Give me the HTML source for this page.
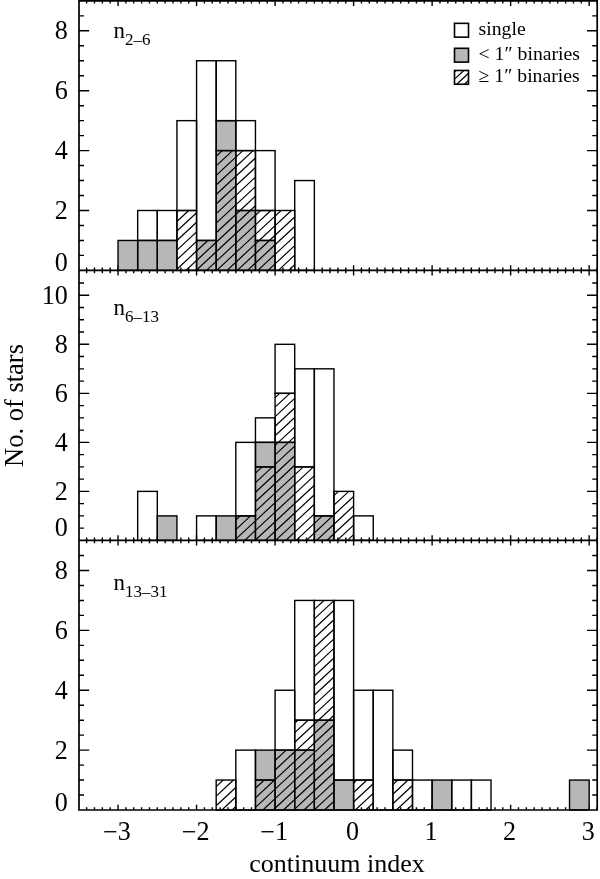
<!DOCTYPE html>
<html><head><meta charset="utf-8"><title>continuum index histograms</title>
<style>html,body{margin:0;padding:0;background:#fff}svg{display:block}text{font-family:"Liberation Serif","Times New Roman",Times,serif;fill:#000}</style></head><body>
<svg width="600" height="879" viewBox="0 0 600 879">
<rect width="600" height="879" fill="#fff"/>
<path d="M86.63 0.80V3.60M94.48 0.80V3.60M102.34 0.80V3.60M110.19 0.80V3.60M118.04 0.80V6.00M125.89 0.80V3.60M133.74 0.80V3.60M141.60 0.80V3.60M149.45 0.80V3.60M157.30 0.80V3.60M165.15 0.80V3.60M173.00 0.80V3.60M180.86 0.80V3.60M188.71 0.80V3.60M196.56 0.80V6.00M204.41 0.80V3.60M212.26 0.80V3.60M220.12 0.80V3.60M227.97 0.80V3.60M235.82 0.80V3.60M243.67 0.80V3.60M251.52 0.80V3.60M259.38 0.80V3.60M267.23 0.80V3.60M275.08 0.80V6.00M282.93 0.80V3.60M290.78 0.80V3.60M298.64 0.80V3.60M306.49 0.80V3.60M314.34 0.80V3.60M322.19 0.80V3.60M330.04 0.80V3.60M337.90 0.80V3.60M345.75 0.80V3.60M353.60 0.80V6.00M361.45 0.80V3.60M369.30 0.80V3.60M377.16 0.80V3.60M385.01 0.80V3.60M392.86 0.80V3.60M400.71 0.80V3.60M408.56 0.80V3.60M416.42 0.80V3.60M424.27 0.80V3.60M432.12 0.80V6.00M439.97 0.80V3.60M447.82 0.80V3.60M455.68 0.80V3.60M463.53 0.80V3.60M471.38 0.80V3.60M479.23 0.80V3.60M487.08 0.80V3.60M494.94 0.80V3.60M502.79 0.80V3.60M510.64 0.80V6.00M518.49 0.80V3.60M526.34 0.80V3.60M534.20 0.80V3.60M542.05 0.80V3.60M549.90 0.80V3.60M557.75 0.80V3.60M565.60 0.80V3.60M573.46 0.80V3.60M581.31 0.80V3.60M589.16 0.80V6.00M597.01 0.80V3.60M86.63 267.60V273.20M94.48 267.60V273.20M102.34 267.60V273.20M110.19 267.60V273.20M118.04 265.20V275.60M125.89 267.60V273.20M133.74 267.60V273.20M141.60 267.60V273.20M149.45 267.60V273.20M157.30 267.60V273.20M165.15 267.60V273.20M173.00 267.60V273.20M180.86 267.60V273.20M188.71 267.60V273.20M196.56 265.20V275.60M204.41 267.60V273.20M212.26 267.60V273.20M220.12 267.60V273.20M227.97 267.60V273.20M235.82 267.60V273.20M243.67 267.60V273.20M251.52 267.60V273.20M259.38 267.60V273.20M267.23 267.60V273.20M275.08 265.20V275.60M282.93 267.60V273.20M290.78 267.60V273.20M298.64 267.60V273.20M306.49 267.60V273.20M314.34 267.60V273.20M322.19 267.60V273.20M330.04 267.60V273.20M337.90 267.60V273.20M345.75 267.60V273.20M353.60 265.20V275.60M361.45 267.60V273.20M369.30 267.60V273.20M377.16 267.60V273.20M385.01 267.60V273.20M392.86 267.60V273.20M400.71 267.60V273.20M408.56 267.60V273.20M416.42 267.60V273.20M424.27 267.60V273.20M432.12 265.20V275.60M439.97 267.60V273.20M447.82 267.60V273.20M455.68 267.60V273.20M463.53 267.60V273.20M471.38 267.60V273.20M479.23 267.60V273.20M487.08 267.60V273.20M494.94 267.60V273.20M502.79 267.60V273.20M510.64 265.20V275.60M518.49 267.60V273.20M526.34 267.60V273.20M534.20 267.60V273.20M542.05 267.60V273.20M549.90 267.60V273.20M557.75 267.60V273.20M565.60 267.60V273.20M573.46 267.60V273.20M581.31 267.60V273.20M589.16 265.20V275.60M597.01 267.60V273.20M86.63 537.60V543.20M94.48 537.60V543.20M102.34 537.60V543.20M110.19 537.60V543.20M118.04 535.20V545.60M125.89 537.60V543.20M133.74 537.60V543.20M141.60 537.60V543.20M149.45 537.60V543.20M157.30 537.60V543.20M165.15 537.60V543.20M173.00 537.60V543.20M180.86 537.60V543.20M188.71 537.60V543.20M196.56 535.20V545.60M204.41 537.60V543.20M212.26 537.60V543.20M220.12 537.60V543.20M227.97 537.60V543.20M235.82 537.60V543.20M243.67 537.60V543.20M251.52 537.60V543.20M259.38 537.60V543.20M267.23 537.60V543.20M275.08 535.20V545.60M282.93 537.60V543.20M290.78 537.60V543.20M298.64 537.60V543.20M306.49 537.60V543.20M314.34 537.60V543.20M322.19 537.60V543.20M330.04 537.60V543.20M337.90 537.60V543.20M345.75 537.60V543.20M353.60 535.20V545.60M361.45 537.60V543.20M369.30 537.60V543.20M377.16 537.60V543.20M385.01 537.60V543.20M392.86 537.60V543.20M400.71 537.60V543.20M408.56 537.60V543.20M416.42 537.60V543.20M424.27 537.60V543.20M432.12 535.20V545.60M439.97 537.60V543.20M447.82 537.60V543.20M455.68 537.60V543.20M463.53 537.60V543.20M471.38 537.60V543.20M479.23 537.60V543.20M487.08 537.60V543.20M494.94 537.60V543.20M502.79 537.60V543.20M510.64 535.20V545.60M518.49 537.60V543.20M526.34 537.60V543.20M534.20 537.60V543.20M542.05 537.60V543.20M549.90 537.60V543.20M557.75 537.60V543.20M565.60 537.60V543.20M573.46 537.60V543.20M581.31 537.60V543.20M589.16 535.20V545.60M597.01 537.60V543.20M86.63 807.20V810.00M94.48 807.20V810.00M102.34 807.20V810.00M110.19 807.20V810.00M118.04 804.80V810.00M125.89 807.20V810.00M133.74 807.20V810.00M141.60 807.20V810.00M149.45 807.20V810.00M157.30 807.20V810.00M165.15 807.20V810.00M173.00 807.20V810.00M180.86 807.20V810.00M188.71 807.20V810.00M196.56 804.80V810.00M204.41 807.20V810.00M212.26 807.20V810.00M220.12 807.20V810.00M227.97 807.20V810.00M235.82 807.20V810.00M243.67 807.20V810.00M251.52 807.20V810.00M259.38 807.20V810.00M267.23 807.20V810.00M275.08 804.80V810.00M282.93 807.20V810.00M290.78 807.20V810.00M298.64 807.20V810.00M306.49 807.20V810.00M314.34 807.20V810.00M322.19 807.20V810.00M330.04 807.20V810.00M337.90 807.20V810.00M345.75 807.20V810.00M353.60 804.80V810.00M361.45 807.20V810.00M369.30 807.20V810.00M377.16 807.20V810.00M385.01 807.20V810.00M392.86 807.20V810.00M400.71 807.20V810.00M408.56 807.20V810.00M416.42 807.20V810.00M424.27 807.20V810.00M432.12 804.80V810.00M439.97 807.20V810.00M447.82 807.20V810.00M455.68 807.20V810.00M463.53 807.20V810.00M471.38 807.20V810.00M479.23 807.20V810.00M487.08 807.20V810.00M494.94 807.20V810.00M502.79 807.20V810.00M510.64 804.80V810.00M518.49 807.20V810.00M526.34 807.20V810.00M534.20 807.20V810.00M542.05 807.20V810.00M549.90 807.20V810.00M557.75 807.20V810.00M565.60 807.20V810.00M573.46 807.20V810.00M581.31 807.20V810.00M589.16 804.80V810.00M597.01 807.20V810.00M79.00 255.42h5.0M597.20 255.42h-5.0M79.00 240.45h5.0M597.20 240.45h-5.0M79.00 225.47h5.0M597.20 225.47h-5.0M79.00 210.50h10.2M597.20 210.50h-10.2M79.00 195.52h5.0M597.20 195.52h-5.0M79.00 180.55h5.0M597.20 180.55h-5.0M79.00 165.57h5.0M597.20 165.57h-5.0M79.00 150.60h10.2M597.20 150.60h-10.2M79.00 135.62h5.0M597.20 135.62h-5.0M79.00 120.65h5.0M597.20 120.65h-5.0M79.00 105.68h5.0M597.20 105.68h-5.0M79.00 90.70h10.2M597.20 90.70h-10.2M79.00 75.72h5.0M597.20 75.72h-5.0M79.00 60.75h5.0M597.20 60.75h-5.0M79.00 45.78h5.0M597.20 45.78h-5.0M79.00 30.80h10.2M597.20 30.80h-10.2M79.00 15.83h5.0M597.20 15.83h-5.0M79.00 528.14h5.0M597.20 528.14h-5.0M79.00 515.89h5.0M597.20 515.89h-5.0M79.00 503.63h5.0M597.20 503.63h-5.0M79.00 491.38h10.2M597.20 491.38h-10.2M79.00 479.12h5.0M597.20 479.12h-5.0M79.00 466.87h5.0M597.20 466.87h-5.0M79.00 454.62h5.0M597.20 454.62h-5.0M79.00 442.36h10.2M597.20 442.36h-10.2M79.00 430.11h5.0M597.20 430.11h-5.0M79.00 417.85h5.0M597.20 417.85h-5.0M79.00 405.60h5.0M597.20 405.60h-5.0M79.00 393.34h10.2M597.20 393.34h-10.2M79.00 381.08h5.0M597.20 381.08h-5.0M79.00 368.83h5.0M597.20 368.83h-5.0M79.00 356.57h5.0M597.20 356.57h-5.0M79.00 344.32h10.2M597.20 344.32h-10.2M79.00 332.06h5.0M597.20 332.06h-5.0M79.00 319.81h5.0M597.20 319.81h-5.0M79.00 307.56h5.0M597.20 307.56h-5.0M79.00 295.30h10.2M597.20 295.30h-10.2M79.00 283.05h5.0M597.20 283.05h-5.0M79.00 795.03h5.0M597.20 795.03h-5.0M79.00 780.06h5.0M597.20 780.06h-5.0M79.00 765.09h5.0M597.20 765.09h-5.0M79.00 750.12h10.2M597.20 750.12h-10.2M79.00 735.16h5.0M597.20 735.16h-5.0M79.00 720.19h5.0M597.20 720.19h-5.0M79.00 705.22h5.0M597.20 705.22h-5.0M79.00 690.25h10.2M597.20 690.25h-10.2M79.00 675.28h5.0M597.20 675.28h-5.0M79.00 660.31h5.0M597.20 660.31h-5.0M79.00 645.34h5.0M597.20 645.34h-5.0M79.00 630.38h10.2M597.20 630.38h-10.2M79.00 615.41h5.0M597.20 615.41h-5.0M79.00 600.44h5.0M597.20 600.44h-5.0M79.00 585.47h5.0M597.20 585.47h-5.0M79.00 570.50h10.2M597.20 570.50h-10.2M79.00 555.53h5.0M597.20 555.53h-5.0" stroke="#000" stroke-width="1.4" fill="none"/>
<g>
<rect x="118.04" y="240.45" width="19.63" height="29.95" fill="#b7b7b7"/>
<rect x="137.67" y="240.45" width="19.63" height="29.95" fill="#b7b7b7"/>
<rect x="157.30" y="240.45" width="19.63" height="29.95" fill="#b7b7b7"/>
<path d="M176.93 211.91L178.44 210.50M176.93 221.46L188.71 210.50M176.93 231.01L196.56 212.75M176.93 240.56L196.56 222.30M176.93 250.11L196.56 231.85M176.93 259.66L196.56 241.40M176.93 269.21L196.56 250.95M185.91 270.40L196.56 260.50M196.18 270.40L196.56 270.05" stroke="#000" stroke-width="1.2" fill="none"/>
<rect x="196.56" y="240.45" width="19.63" height="29.95" fill="#b7b7b7"/>
<path d="M196.56 241.40L197.58 240.45M196.56 250.95L207.85 240.45M196.56 260.50L216.19 242.24M196.56 270.05L216.19 251.79M206.45 270.40L216.19 261.34" stroke="#000" stroke-width="1.2" fill="none"/>
<rect x="216.19" y="150.60" width="19.63" height="119.80" fill="#b7b7b7"/>
<path d="M216.19 156.29L222.31 150.60M216.19 165.84L232.58 150.60M216.19 175.39L235.82 157.14M216.19 184.94L235.82 166.69M216.19 194.49L235.82 176.24M216.19 204.04L235.82 185.79M216.19 213.59L235.82 195.34M216.19 223.14L235.82 204.89M216.19 232.69L235.82 214.44M216.19 242.24L235.82 223.99M216.19 251.79L235.82 233.54M216.19 261.34L235.82 243.09M216.72 270.40L235.82 252.64M226.99 270.40L235.82 262.19" stroke="#000" stroke-width="1.2" fill="none"/>
<rect x="216.19" y="120.65" width="19.63" height="29.95" fill="#b7b7b7"/>
<rect x="235.82" y="210.50" width="19.63" height="59.90" fill="#b7b7b7"/>
<path d="M235.82 214.44L240.05 210.50M235.82 223.99L250.32 210.50M235.82 233.54L255.45 215.28M235.82 243.09L255.45 224.83M235.82 252.64L255.45 234.38M235.82 262.19L255.45 243.93M237.26 270.40L255.45 253.48M247.53 270.40L255.45 263.03" stroke="#000" stroke-width="1.2" fill="none"/>
<path d="M235.82 157.14L242.85 150.60M235.82 166.69L253.12 150.60M235.82 176.24L255.45 157.98M235.82 185.79L255.45 167.53M235.82 195.34L255.45 177.08M235.82 204.89L255.45 186.63M240.05 210.50L255.45 196.18M250.32 210.50L255.45 205.73" stroke="#000" stroke-width="1.2" fill="none"/>
<rect x="255.45" y="240.45" width="19.63" height="29.95" fill="#b7b7b7"/>
<path d="M255.45 243.93L259.19 240.45M255.45 253.48L269.46 240.45M255.45 263.03L275.08 244.78M257.80 270.40L275.08 254.33M268.06 270.40L275.08 263.88" stroke="#000" stroke-width="1.2" fill="none"/>
<path d="M255.45 215.28L260.59 210.50M255.45 224.83L270.86 210.50M255.45 234.38L275.08 216.13M259.19 240.45L275.08 225.68M269.46 240.45L275.08 235.23" stroke="#000" stroke-width="1.2" fill="none"/>
<path d="M275.08 216.13L281.13 210.50M275.08 225.68L291.40 210.50M275.08 235.23L294.71 216.97M275.08 244.78L294.71 226.52M275.08 254.33L294.71 236.07M275.08 263.88L294.71 245.62M278.33 270.40L294.71 255.17M288.60 270.40L294.71 264.72" stroke="#000" stroke-width="1.2" fill="none"/>
<rect x="118.04" y="240.45" width="19.63" height="29.95" fill="none" stroke="#000" stroke-width="1.4"/>
<rect x="137.67" y="240.45" width="19.63" height="29.95" fill="none" stroke="#000" stroke-width="1.4"/>
<rect x="137.67" y="210.50" width="19.63" height="29.95" fill="none" stroke="#000" stroke-width="1.4"/>
<rect x="157.30" y="240.45" width="19.63" height="29.95" fill="none" stroke="#000" stroke-width="1.4"/>
<rect x="157.30" y="210.50" width="19.63" height="29.95" fill="none" stroke="#000" stroke-width="1.4"/>
<rect x="176.93" y="210.50" width="19.63" height="59.90" fill="none" stroke="#000" stroke-width="1.4"/>
<rect x="176.93" y="120.65" width="19.63" height="89.85" fill="none" stroke="#000" stroke-width="1.4"/>
<rect x="196.56" y="240.45" width="19.63" height="29.95" fill="none" stroke="#000" stroke-width="1.4"/>
<rect x="196.56" y="60.75" width="19.63" height="179.70" fill="none" stroke="#000" stroke-width="1.4"/>
<rect x="216.19" y="150.60" width="19.63" height="119.80" fill="none" stroke="#000" stroke-width="1.4"/>
<rect x="216.19" y="120.65" width="19.63" height="29.95" fill="none" stroke="#000" stroke-width="1.4"/>
<rect x="216.19" y="60.75" width="19.63" height="59.90" fill="none" stroke="#000" stroke-width="1.4"/>
<rect x="235.82" y="210.50" width="19.63" height="59.90" fill="none" stroke="#000" stroke-width="1.4"/>
<rect x="235.82" y="150.60" width="19.63" height="59.90" fill="none" stroke="#000" stroke-width="1.4"/>
<rect x="235.82" y="120.65" width="19.63" height="29.95" fill="none" stroke="#000" stroke-width="1.4"/>
<rect x="255.45" y="240.45" width="19.63" height="29.95" fill="none" stroke="#000" stroke-width="1.4"/>
<rect x="255.45" y="210.50" width="19.63" height="29.95" fill="none" stroke="#000" stroke-width="1.4"/>
<rect x="255.45" y="150.60" width="19.63" height="59.90" fill="none" stroke="#000" stroke-width="1.4"/>
<rect x="275.08" y="210.50" width="19.63" height="59.90" fill="none" stroke="#000" stroke-width="1.4"/>
<rect x="294.71" y="180.55" width="19.63" height="89.85" fill="none" stroke="#000" stroke-width="1.4"/>
</g>
<g>
<rect x="157.30" y="515.89" width="19.63" height="24.51" fill="#b7b7b7"/>
<rect x="216.19" y="515.89" width="19.63" height="24.51" fill="#b7b7b7"/>
<rect x="235.82" y="515.89" width="19.63" height="24.51" fill="#b7b7b7"/>
<path d="M235.82 520.04L240.28 515.89M235.82 529.59L250.55 515.89M235.82 539.14L255.45 520.88M244.73 540.40L255.45 530.43M255.00 540.40L255.45 539.98" stroke="#000" stroke-width="1.2" fill="none"/>
<rect x="255.45" y="466.87" width="19.63" height="73.53" fill="#b7b7b7"/>
<path d="M255.45 473.13L262.18 466.87M255.45 482.68L272.45 466.87M255.45 492.23L275.08 473.98M255.45 501.78L275.08 483.53M255.45 511.33L275.08 493.08M255.45 520.88L275.08 502.63M255.45 530.43L275.08 512.18M255.45 539.98L275.08 521.73M265.27 540.40L275.08 531.28" stroke="#000" stroke-width="1.2" fill="none"/>
<rect x="255.45" y="442.36" width="19.63" height="24.51" fill="#b7b7b7"/>
<rect x="275.08" y="442.36" width="19.63" height="98.04" fill="#b7b7b7"/>
<path d="M275.08 445.33L278.27 442.36M275.08 454.88L288.54 442.36M275.08 464.43L294.71 446.17M275.08 473.98L294.71 455.72M275.08 483.53L294.71 465.27M275.08 493.08L294.71 474.82M275.08 502.63L294.71 484.37M275.08 512.18L294.71 493.92M275.08 521.73L294.71 503.47M275.08 531.28L294.71 513.02M275.54 540.40L294.71 522.57M285.81 540.40L294.71 532.12" stroke="#000" stroke-width="1.2" fill="none"/>
<path d="M275.08 397.58L279.63 393.34M275.08 407.13L289.90 393.34M275.08 416.68L294.71 398.42M275.08 426.23L294.71 407.97M275.08 435.78L294.71 417.52M278.27 442.36L294.71 427.07M288.54 442.36L294.71 436.62" stroke="#000" stroke-width="1.2" fill="none"/>
<path d="M294.71 474.82L303.26 466.87M294.71 484.37L313.53 466.87M294.71 493.92L314.34 475.66M294.71 503.47L314.34 485.21M294.71 513.02L314.34 494.76M294.71 522.57L314.34 504.31M294.71 532.12L314.34 513.86M296.08 540.40L314.34 523.41M306.34 540.40L314.34 532.96" stroke="#000" stroke-width="1.2" fill="none"/>
<rect x="314.34" y="515.89" width="19.63" height="24.51" fill="#b7b7b7"/>
<path d="M314.34 523.41L322.43 515.89M314.34 532.96L332.70 515.89M316.61 540.40L333.97 524.26M326.88 540.40L333.97 533.81" stroke="#000" stroke-width="1.2" fill="none"/>
<path d="M333.97 495.61L338.52 491.38M333.97 505.16L348.78 491.38M333.97 514.71L353.60 496.45M333.97 524.26L353.60 506.00M333.97 533.81L353.60 515.55M337.15 540.40L353.60 525.10M347.42 540.40L353.60 534.65" stroke="#000" stroke-width="1.2" fill="none"/>
<rect x="137.67" y="491.38" width="19.63" height="49.02" fill="none" stroke="#000" stroke-width="1.4"/>
<rect x="157.30" y="515.89" width="19.63" height="24.51" fill="none" stroke="#000" stroke-width="1.4"/>
<rect x="196.56" y="515.89" width="19.63" height="24.51" fill="none" stroke="#000" stroke-width="1.4"/>
<rect x="216.19" y="515.89" width="19.63" height="24.51" fill="none" stroke="#000" stroke-width="1.4"/>
<rect x="235.82" y="515.89" width="19.63" height="24.51" fill="none" stroke="#000" stroke-width="1.4"/>
<rect x="235.82" y="442.36" width="19.63" height="73.53" fill="none" stroke="#000" stroke-width="1.4"/>
<rect x="255.45" y="466.87" width="19.63" height="73.53" fill="none" stroke="#000" stroke-width="1.4"/>
<rect x="255.45" y="442.36" width="19.63" height="24.51" fill="none" stroke="#000" stroke-width="1.4"/>
<rect x="255.45" y="417.85" width="19.63" height="24.51" fill="none" stroke="#000" stroke-width="1.4"/>
<rect x="275.08" y="442.36" width="19.63" height="98.04" fill="none" stroke="#000" stroke-width="1.4"/>
<rect x="275.08" y="393.34" width="19.63" height="49.02" fill="none" stroke="#000" stroke-width="1.4"/>
<rect x="275.08" y="344.32" width="19.63" height="49.02" fill="none" stroke="#000" stroke-width="1.4"/>
<rect x="294.71" y="466.87" width="19.63" height="73.53" fill="none" stroke="#000" stroke-width="1.4"/>
<rect x="294.71" y="368.83" width="19.63" height="98.04" fill="none" stroke="#000" stroke-width="1.4"/>
<rect x="314.34" y="515.89" width="19.63" height="24.51" fill="none" stroke="#000" stroke-width="1.4"/>
<rect x="314.34" y="368.83" width="19.63" height="147.06" fill="none" stroke="#000" stroke-width="1.4"/>
<rect x="333.97" y="491.38" width="19.63" height="49.02" fill="none" stroke="#000" stroke-width="1.4"/>
<rect x="353.60" y="515.89" width="19.63" height="24.51" fill="none" stroke="#000" stroke-width="1.4"/>
</g>
<g>
<path d="M216.19 786.59L223.21 780.06M216.19 796.14L233.48 780.06M216.19 805.69L235.82 787.44M221.83 810.00L235.82 796.99M232.10 810.00L235.82 806.54" stroke="#000" stroke-width="1.2" fill="none"/>
<rect x="255.45" y="780.06" width="19.63" height="29.94" fill="#b7b7b7"/>
<path d="M255.45 788.28L264.29 780.06M255.45 797.83L274.56 780.06M255.45 807.38L275.08 789.13M262.90 810.00L275.08 798.68M273.17 810.00L275.08 808.23" stroke="#000" stroke-width="1.2" fill="none"/>
<rect x="255.45" y="750.12" width="19.63" height="29.94" fill="#b7b7b7"/>
<rect x="275.08" y="750.12" width="19.63" height="59.88" fill="#b7b7b7"/>
<path d="M275.08 750.93L275.94 750.12M275.08 760.48L286.21 750.12M275.08 770.03L294.71 751.77M275.08 779.58L294.71 761.32M275.08 789.13L294.71 770.87M275.08 798.68L294.71 780.42M275.08 808.23L294.71 789.97M283.44 810.00L294.71 799.52M293.71 810.00L294.71 809.07" stroke="#000" stroke-width="1.2" fill="none"/>
<rect x="294.71" y="750.12" width="19.63" height="59.88" fill="#b7b7b7"/>
<path d="M294.71 751.77L296.48 750.12M294.71 761.32L306.75 750.12M294.71 770.87L314.34 752.61M294.71 780.42L314.34 762.16M294.71 789.97L314.34 771.71M294.71 799.52L314.34 781.26M294.71 809.07L314.34 790.81M303.98 810.00L314.34 800.36" stroke="#000" stroke-width="1.2" fill="none"/>
<path d="M294.71 723.12L297.86 720.19M294.71 732.67L308.13 720.19M294.71 742.22L314.34 723.96M296.48 750.12L314.34 733.51M306.75 750.12L314.34 743.06" stroke="#000" stroke-width="1.2" fill="none"/>
<rect x="314.34" y="720.19" width="19.63" height="89.81" fill="#b7b7b7"/>
<path d="M314.34 723.96L318.40 720.19M314.34 733.51L328.67 720.19M314.34 743.06L333.97 724.81M314.34 752.61L333.97 734.36M314.34 762.16L333.97 743.91M314.34 771.71L333.97 753.46M314.34 781.26L333.97 763.01M314.34 790.81L333.97 772.56M314.34 800.36L333.97 782.11M314.34 809.91L333.97 791.66M324.52 810.00L333.97 801.21" stroke="#000" stroke-width="1.2" fill="none"/>
<path d="M314.34 609.36L323.94 600.44M314.34 618.91L333.97 600.66M314.34 628.46L333.97 610.21M314.34 638.01L333.97 619.76M314.34 647.56L333.97 629.31M314.34 657.11L333.97 638.86M314.34 666.66L333.97 648.41M314.34 676.21L333.97 657.96M314.34 685.76L333.97 667.51M314.34 695.31L333.97 677.06M314.34 704.86L333.97 686.61M314.34 714.41L333.97 696.16M318.40 720.19L333.97 705.71M328.67 720.19L333.97 715.26" stroke="#000" stroke-width="1.2" fill="none"/>
<rect x="333.97" y="780.06" width="19.63" height="29.94" fill="#b7b7b7"/>
<path d="M353.60 782.95L356.71 780.06M353.60 792.50L366.98 780.06M353.60 802.05L373.23 783.80M355.32 810.00L373.23 793.35M365.59 810.00L373.23 802.90" stroke="#000" stroke-width="1.2" fill="none"/>
<path d="M392.86 784.64L397.78 780.06M392.86 794.19L408.05 780.06M392.86 803.74L412.49 785.48M396.40 810.00L412.49 795.03M406.67 810.00L412.49 804.58" stroke="#000" stroke-width="1.2" fill="none"/>
<rect x="432.12" y="780.06" width="19.63" height="29.94" fill="#b7b7b7"/>
<rect x="569.53" y="780.06" width="19.63" height="29.94" fill="#b7b7b7"/>
<rect x="216.19" y="780.06" width="19.63" height="29.94" fill="none" stroke="#000" stroke-width="1.4"/>
<rect x="235.82" y="750.12" width="19.63" height="59.88" fill="none" stroke="#000" stroke-width="1.4"/>
<rect x="255.45" y="780.06" width="19.63" height="29.94" fill="none" stroke="#000" stroke-width="1.4"/>
<rect x="255.45" y="750.12" width="19.63" height="29.94" fill="none" stroke="#000" stroke-width="1.4"/>
<rect x="275.08" y="750.12" width="19.63" height="59.88" fill="none" stroke="#000" stroke-width="1.4"/>
<rect x="275.08" y="690.25" width="19.63" height="59.88" fill="none" stroke="#000" stroke-width="1.4"/>
<rect x="294.71" y="750.12" width="19.63" height="59.88" fill="none" stroke="#000" stroke-width="1.4"/>
<rect x="294.71" y="720.19" width="19.63" height="29.94" fill="none" stroke="#000" stroke-width="1.4"/>
<rect x="294.71" y="600.44" width="19.63" height="119.75" fill="none" stroke="#000" stroke-width="1.4"/>
<rect x="314.34" y="720.19" width="19.63" height="89.81" fill="none" stroke="#000" stroke-width="1.4"/>
<rect x="314.34" y="600.44" width="19.63" height="119.75" fill="none" stroke="#000" stroke-width="1.4"/>
<rect x="333.97" y="780.06" width="19.63" height="29.94" fill="none" stroke="#000" stroke-width="1.4"/>
<rect x="333.97" y="600.44" width="19.63" height="179.62" fill="none" stroke="#000" stroke-width="1.4"/>
<rect x="353.60" y="780.06" width="19.63" height="29.94" fill="none" stroke="#000" stroke-width="1.4"/>
<rect x="353.60" y="690.25" width="19.63" height="89.81" fill="none" stroke="#000" stroke-width="1.4"/>
<rect x="373.23" y="690.25" width="19.63" height="119.75" fill="none" stroke="#000" stroke-width="1.4"/>
<rect x="392.86" y="780.06" width="19.63" height="29.94" fill="none" stroke="#000" stroke-width="1.4"/>
<rect x="392.86" y="750.12" width="19.63" height="29.94" fill="none" stroke="#000" stroke-width="1.4"/>
<rect x="412.49" y="780.06" width="19.63" height="29.94" fill="none" stroke="#000" stroke-width="1.4"/>
<rect x="432.12" y="780.06" width="19.63" height="29.94" fill="none" stroke="#000" stroke-width="1.4"/>
<rect x="451.75" y="780.06" width="19.63" height="29.94" fill="none" stroke="#000" stroke-width="1.4"/>
<rect x="471.38" y="780.06" width="19.63" height="29.94" fill="none" stroke="#000" stroke-width="1.4"/>
<rect x="569.53" y="780.06" width="19.63" height="29.94" fill="none" stroke="#000" stroke-width="1.4"/>
</g>
<path d="M79.0 0.8H597.2V810.0H79.0Z M79.0 270.4H597.2 M79.0 540.4H597.2" stroke="#000" stroke-width="1.7" fill="none" stroke-linejoin="miter"/>
<text transform="translate(67.8 39.3) scale(0.95 1)" font-size="27.5" text-anchor="end">8</text>
<text transform="translate(67.8 99.2) scale(0.95 1)" font-size="27.5" text-anchor="end">6</text>
<text transform="translate(67.8 159.1) scale(0.95 1)" font-size="27.5" text-anchor="end">4</text>
<text transform="translate(67.8 219.0) scale(0.95 1)" font-size="27.5" text-anchor="end">2</text>
<text transform="translate(67.8 270.5) scale(0.95 1)" font-size="27.5" text-anchor="end">0</text>
<text transform="translate(67.8 303.8) scale(0.95 1)" font-size="27.5" text-anchor="end">10</text>
<text transform="translate(67.8 352.8) scale(0.95 1)" font-size="27.5" text-anchor="end">8</text>
<text transform="translate(67.8 401.8) scale(0.95 1)" font-size="27.5" text-anchor="end">6</text>
<text transform="translate(67.8 450.9) scale(0.95 1)" font-size="27.5" text-anchor="end">4</text>
<text transform="translate(67.8 499.9) scale(0.95 1)" font-size="27.5" text-anchor="end">2</text>
<text transform="translate(67.8 536.0) scale(0.95 1)" font-size="27.5" text-anchor="end">0</text>
<text transform="translate(67.8 579.0) scale(0.95 1)" font-size="27.5" text-anchor="end">8</text>
<text transform="translate(67.8 638.9) scale(0.95 1)" font-size="27.5" text-anchor="end">6</text>
<text transform="translate(67.8 698.8) scale(0.95 1)" font-size="27.5" text-anchor="end">4</text>
<text transform="translate(67.8 758.6) scale(0.95 1)" font-size="27.5" text-anchor="end">2</text>
<text transform="translate(67.8 811.0) scale(0.95 1)" font-size="27.5" text-anchor="end">0</text>
<text transform="translate(117.0 839.7) scale(0.95 1)" font-size="27.5" text-anchor="middle"><tspan dy="1.7">−</tspan><tspan dy="-1.7">3</tspan></text>
<text transform="translate(195.6 839.7) scale(0.95 1)" font-size="27.5" text-anchor="middle"><tspan dy="1.7">−</tspan><tspan dy="-1.7">2</tspan></text>
<text transform="translate(274.1 839.7) scale(0.95 1)" font-size="27.5" text-anchor="middle"><tspan dy="1.7">−</tspan><tspan dy="-1.7">1</tspan></text>
<text transform="translate(352.6 839.7) scale(0.95 1)" font-size="27.5" text-anchor="middle">0</text>
<text transform="translate(431.1 839.7) scale(0.95 1)" font-size="27.5" text-anchor="middle">1</text>
<text transform="translate(509.6 839.7) scale(0.95 1)" font-size="27.5" text-anchor="middle">2</text>
<text transform="translate(588.2 839.7) scale(0.95 1)" font-size="27.5" text-anchor="middle">3</text>
<text x="337" y="871.6" font-size="26" text-anchor="middle">continuum index</text>
<text transform="translate(22.6 405.5) rotate(-90)" font-size="26.5" text-anchor="middle">No. of stars</text>
<text x="113.6" y="38.0" font-size="23">n<tspan font-size="17" dy="6.8">2–6</tspan></text>
<text x="113.6" y="315.3" font-size="23">n<tspan font-size="17" dy="6.8">6–13</tspan></text>
<text x="113.6" y="590.0" font-size="23">n<tspan font-size="17" dy="6.8">13–31</tspan></text>
<rect x="454.5" y="23.35" width="14.0" height="13.8" fill="#fff"/>
<rect x="454.5" y="23.35" width="14.0" height="13.8" fill="none" stroke="#000" stroke-width="1.6"/>
<rect x="454.5" y="48.30" width="14.0" height="13.8" fill="#b7b7b7"/>
<rect x="454.5" y="48.30" width="14.0" height="13.8" fill="none" stroke="#000" stroke-width="1.6"/>
<rect x="454.5" y="70.45" width="14.0" height="13.8" fill="#fff"/>
<path d="M454.50 71.92L456.08 70.45M454.50 79.12L463.82 70.45M456.72 84.25L468.50 73.30M464.46 84.25L468.50 80.50" stroke="#000" stroke-width="1.2" fill="none"/>
<rect x="454.5" y="70.45" width="14.0" height="13.8" fill="none" stroke="#000" stroke-width="1.6"/>
<text x="478.6" y="35" font-size="19.7">single</text>
<text x="478.6" y="59.7" font-size="19.7">&lt; 1″ binaries</text>
<text x="478.6" y="82.2" font-size="19.7">≥ 1″ binaries</text>
</svg></body></html>
